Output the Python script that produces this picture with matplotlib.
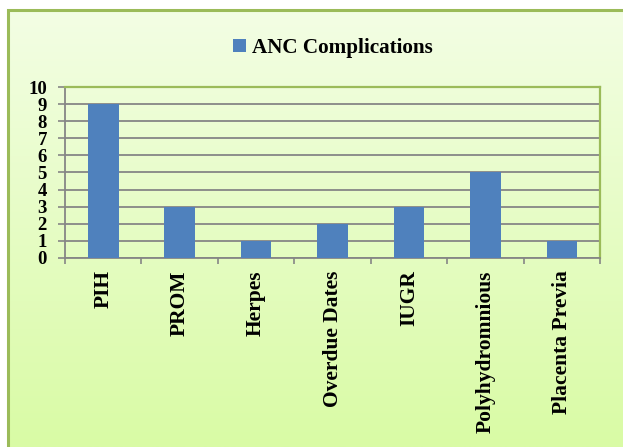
import numpy as np
import matplotlib
matplotlib.use('Agg')
import matplotlib.pyplot as plt
from matplotlib.patches import Rectangle

# data
categories = ['PIH', 'PROM', 'Herpes', 'Overdue Dates', 'IUGR', 'Polyhydromnious', 'Placenta Previa']
counts = [9, 3, 1, 2, 3, 5, 1]
series_name = 'ANC Complications'
y_ticks = list(range(0, 11))

BAR = '#4F81BD'
OLIVE = '#9BBB59'
GRID = '#868686'
SERIF = 'Liberation Serif'

W, H = 623, 447
fig = plt.figure(figsize=(W / 100, H / 100), dpi=100, facecolor='white')

# gradient background inside the chart border
bg = fig.add_axes([8 / W, 0, 1 - 8 / W, (H - 10) / H], zorder=0)
top = np.array([0xF3, 0xFE, 0xE4]) / 255
bot = np.array([0xD9, 0xFB, 0xA5]) / 255
t = np.linspace(0, 1, 256)[:, None]
grad = (top[None, :] * (1 - t) + bot[None, :] * t)[:, None, :]
bg.imshow(grad, aspect='auto', extent=[0, 1, 0, 1])
bg.set_axis_off()

fig.patches.append(Rectangle((8 / W, -0.1), 1.2, (H - 10) / H + 0.1,
                             transform=fig.transFigure, fill=False,
                             edgecolor=OLIVE, linewidth=2.2, zorder=5))

ax = fig.add_axes([65 / W, 1 - 258 / H, (600 - 65) / W, (258 - 87) / H], zorder=2)
ax.patch.set_alpha(0)
x = np.arange(len(categories))
bars = ax.bar(x, counts, width=0.4, color=BAR, zorder=3, label=series_name)

ax.set_xlim(-0.5, len(categories) - 0.5)
ax.set_ylim(0, 10)
ax.set_yticks(y_ticks)
ax.yaxis.grid(True, color=GRID, linewidth=1.3, zorder=1)
ax.set_axisbelow(True)

ax.set_xticks(x)
ax.set_xticklabels(categories, rotation=90, va='top', ha='center',
                   fontfamily=SERIF, fontweight='bold', fontsize=15.5)
ax.set_xticks(np.arange(-0.5, len(categories)), minor=True)
ax.tick_params(axis='x', which='major', length=0, pad=9)
ax.tick_params(axis='x', which='minor', length=4, width=1.2, color=GRID)
ax.tick_params(axis='y', length=5, width=1.2, color=GRID, pad=8)
for lbl in ax.get_yticklabels():
    lbl.set_fontfamily(SERIF)
    lbl.set_fontweight('bold')
    lbl.set_fontsize(13.5)

for s in ['left', 'bottom']:
    ax.spines[s].set_color(GRID)
    ax.spines[s].set_linewidth(1.3)
for s in ['top', 'right']:
    ax.spines[s].set_color(OLIVE)
    ax.spines[s].set_linewidth(1.6)

fig.legend(handles=[bars], labels=[series_name], loc='center',
           bbox_to_anchor=(333 / W, 1 - 48 / H), frameon=False,
           prop={'family': SERIF, 'weight': 'bold', 'size': 15.2},
           handlelength=0.6, handleheight=0.6, handletextpad=0.3)

fig.savefig('out.png', dpi=100)
